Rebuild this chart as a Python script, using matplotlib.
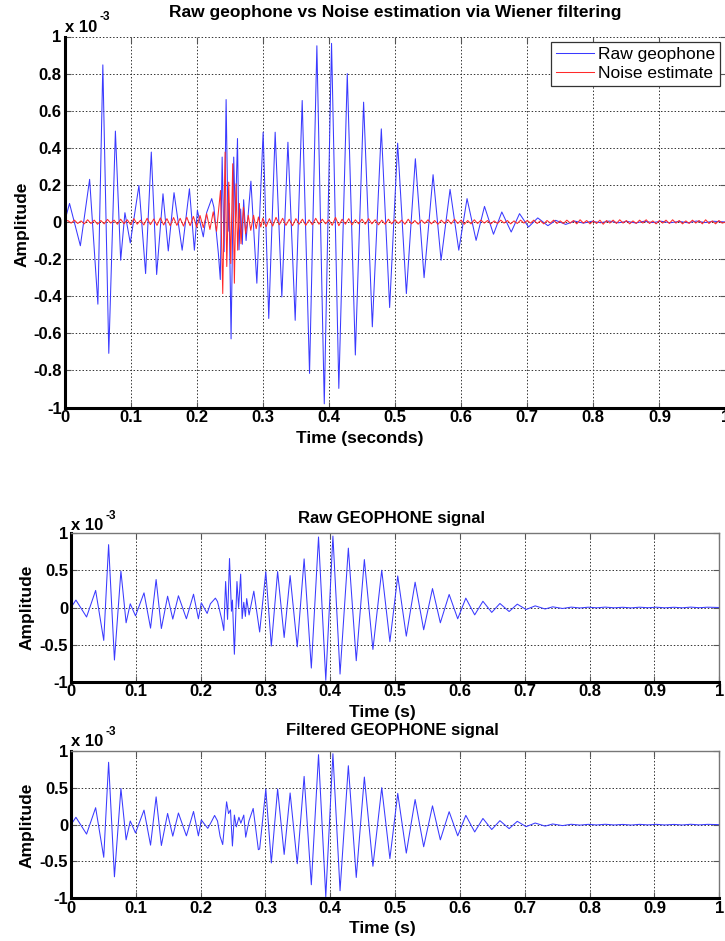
import numpy as np
import matplotlib
matplotlib.use("Agg")
import matplotlib.pyplot as plt

plt.rcParams['font.family'] = ['Liberation Sans', 'DejaVu Sans']

# Raw geophone trace: extrema (time in s, amplitude in units of 1e-3)
raw_t = [0.000, 0.0076, 0.024, 0.038, 0.0505, 0.058, 0.067, 0.077, 0.085, 0.0914,
         0.0995, 0.1126, 0.1227, 0.1313, 0.1394, 0.149, 0.157, 0.1657, 0.178, 0.189,
         0.1965, 0.201, 0.210, 0.215, 0.2227, 0.226, 0.2328, 0.2357, 0.2385, 0.2415,
         0.2445, 0.2475, 0.2490, 0.2520, 0.2560, 0.2585, 0.2617, 0.2640, 0.2665, 0.2690,
         0.2710, 0.2747, 0.2820, 0.2910, 0.3005, 0.309, 0.3187, 0.3288, 0.338, 0.349,
         0.3596, 0.3707, 0.3818, 0.3930, 0.404, 0.415, 0.4278, 0.440, 0.4525, 0.4657,
         0.4793, 0.4919, 0.504, 0.5172, 0.5308, 0.544, 0.5576, 0.5697, 0.5833, 0.5965,
         0.609, 0.6227, 0.6354, 0.649, 0.6616, 0.6758, 0.6884, 0.702, 0.716, 0.7313,
         0.743, 0.7582, 0.7717, 0.785, 0.798, 0.811, 0.824, 0.838, 0.851, 0.864,
         0.877, 0.890, 0.903, 0.916, 0.930, 0.943, 0.956, 0.969, 0.982, 1.000]
raw_v = [0.000, 0.100, -0.128, 0.230, -0.443, 0.847, -0.708, 0.490, -0.206, 0.050,
         -0.113, 0.197, -0.278, 0.377, -0.283, 0.152, -0.156, 0.158, -0.152, 0.179,
         -0.152, 0.063, -0.080, 0.050, 0.126, 0.080, -0.170, -0.310, 0.350, -0.160,
         0.660, -0.050, 0.100, -0.630, 0.350, 0.000, 0.450, -0.150, 0.070, -0.120,
         0.120, -0.100, 0.220, -0.330, 0.484, -0.520, 0.484, -0.404, 0.430, -0.530,
         0.655, -0.816, 0.950, -0.980, 0.963, -0.897, 0.800, -0.717, 0.646, -0.565,
         0.502, -0.461, 0.425, -0.386, 0.341, -0.300, 0.255, -0.206, 0.176, -0.152,
         0.126, -0.099, 0.084, -0.066, 0.054, -0.054, 0.045, -0.027, 0.022, -0.020,
         0.009, -0.013, 0.005, -0.006, 0.004, -0.004, 0.005, -0.004, 0.003, -0.005,
         0.004, -0.003, 0.004, -0.004, 0.003, -0.004, 0.005, -0.003, 0.004, 0.000]

# Filtered trace differs from the raw one only inside the noisy window
filt_window = (0.200, 0.290)
filt_burst_t = [0.2010, 0.2110, 0.2160, 0.2215, 0.2260, 0.2300, 0.2340, 0.2400, 0.2430, 0.2460,
                0.2490, 0.2520, 0.2550, 0.2590, 0.2620, 0.2665, 0.2695, 0.2745, 0.2810, 0.2890]
filt_burst_v = [0.063, -0.050, 0.030, 0.125, 0.050, -0.160, -0.270, 0.310, 0.150, 0.200,
                -0.290, 0.130, -0.030, 0.100, 0.020, 0.130, -0.170, 0.050, 0.220, -0.340]

# Wiener noise estimate: quiet ripple before and after the burst (5 ms step)
noise_step = 0.005
noise_pre_start = 0.000
noise_pre_v = [0.000, 0.008, -0.006, 0.010, -0.008, 0.006, -0.010, 0.012, -0.008, 0.010,
               -0.012, 0.008, -0.010, 0.014, -0.006, 0.010, -0.012, 0.015, -0.010, 0.012,
               -0.014, 0.018, -0.012, 0.010, -0.016, 0.020, -0.014, 0.016, -0.018, 0.022,
               -0.016, 0.018, -0.020, 0.024, -0.018, 0.020, -0.022, 0.026, -0.020, 0.030,
               -0.028, 0.035, -0.030, 0.045, -0.040, 0.055, -0.050]
noise_burst_t = [0.2330, 0.2360, 0.2394, 0.2430, 0.2455, 0.2485, 0.2515, 0.2545, 0.2570, 0.2596,
                 0.2620, 0.2646, 0.2670, 0.2707, 0.2740, 0.2780, 0.2818, 0.2860, 0.2900, 0.2934,
                 0.2970]
noise_burst_v = [0.060, 0.170, -0.386, 0.377, -0.240, 0.215, -0.224, 0.314, -0.330, 0.206,
                 -0.152, 0.100, -0.117, 0.080, -0.063, 0.036, -0.045, 0.036, -0.036, 0.027,
                 -0.027]
noise_post_start = 0.300
noise_post_v = [0.020, -0.025, 0.018, -0.022, 0.025, -0.015, 0.020, -0.018, 0.015, -0.020,
                0.018, -0.012, 0.015, -0.018, 0.012, -0.015, 0.020, -0.012, 0.015, -0.010,
                0.012, -0.018, 0.025, -0.020, 0.015, -0.012, 0.018, -0.015, 0.012, -0.010,
                0.015, -0.012, 0.018, -0.010, 0.012, -0.015, 0.010, -0.012, 0.015, -0.010,
                0.012, -0.008, 0.010, -0.012, 0.015, -0.010, 0.008, -0.012, 0.010, -0.008,
                0.012, -0.010, 0.008, -0.012, 0.010, -0.008, 0.012, -0.010, 0.015, -0.008,
                0.010, -0.012, 0.008, -0.010, 0.012, -0.008, 0.010, -0.006, 0.008, -0.010,
                0.006, -0.008, 0.010, -0.006, 0.008, -0.010, 0.006, -0.008, 0.010, -0.006,
                0.008, -0.006, 0.010, -0.008, 0.006, -0.010, 0.008, -0.006, 0.010, -0.008,
                0.006, -0.008, 0.010, -0.006, 0.008, -0.010, 0.012, -0.006, 0.008, -0.010,
                0.006, -0.008, 0.010, -0.012, 0.008, -0.006, 0.010, -0.008, 0.012, -0.006,
                0.008, -0.010, 0.006, -0.008, 0.010, -0.006, 0.012, -0.008, 0.006, -0.010,
                0.008, -0.006, 0.010, -0.008, 0.012, -0.006, 0.008, -0.010, 0.006, -0.008,
                0.010, -0.006, 0.008, -0.010, 0.012, -0.008, 0.006, -0.010, 0.008, -0.006,
                0.000]

x_ticks = [0, 0.1, 0.2, 0.3, 0.4, 0.5, 0.6, 0.7, 0.8, 0.9, 1]
x_tick_labels = ['0', '0.1', '0.2', '0.3', '0.4', '0.5', '0.6', '0.7', '0.8', '0.9', '1']
top_y_ticks = [-1, -0.8, -0.6, -0.4, -0.2, 0, 0.2, 0.4, 0.6, 0.8, 1]
top_y_tick_labels = ['-1', '-0.8', '-0.6', '-0.4', '-0.2', '0', '0.2', '0.4', '0.6', '0.8', '1']
small_y_ticks = [-1, -0.5, 0, 0.5, 1]
small_y_tick_labels = ['-1', '-0.5', '0', '0.5', '1']

# ---- assemble series ----
raw_t_arr = np.array(raw_t)
raw_v_arr = np.array(raw_v)
keep = (raw_t_arr < filt_window[0]) | (raw_t_arr > filt_window[1])
filt_t = np.concatenate([raw_t_arr[keep], filt_burst_t])
filt_v = np.concatenate([raw_v_arr[keep], filt_burst_v])
order = np.argsort(filt_t)
filt_t, filt_v = filt_t[order], filt_v[order]

noise_pre_t = noise_pre_start + noise_step * np.arange(len(noise_pre_v))
noise_post_t = noise_post_start + noise_step * np.arange(len(noise_post_v))
noise_t = np.concatenate([noise_pre_t, noise_burst_t, noise_post_t])
noise_v = np.concatenate([noise_pre_v, noise_burst_v, noise_post_v])

W, H = 725, 941
fig = plt.figure(figsize=(W / 100, H / 100), dpi=100)


def px_axes(left, top, right, bottom):
    return fig.add_axes([left / W, 1 - bottom / H, (right - left) / W, (bottom - top) / H])


FS_TICK = 12
FS_LABEL = 12.5
FS_TITLE = 12
BLUE = '#3a3aff'
RED = '#ff2a2a'
LW = 0.75


def style(ax, yticks, ylabels, show_top=True):
    ax.set_xlim(0, 1)
    ax.set_ylim(-1, 1)
    ax.set_xticks(x_ticks)
    ax.set_xticklabels(x_tick_labels, fontsize=FS_TICK, fontweight='bold')
    ax.set_yticks(yticks)
    ax.set_yticklabels(ylabels, fontsize=FS_TICK, fontweight='bold')
    ax.grid(True, linestyle=(0, (1.5, 2)), color='#333333', linewidth=0.7)
    ax.tick_params(direction='in', length=4, width=0.8, top=True, right=True,
                   color='#555555', pad=2)
    for s in ('left', 'bottom'):
        ax.spines[s].set_linewidth(2.2)
        ax.spines[s].set_color('black')
    for s in ('top', 'right'):
        ax.spines[s].set_linewidth(1.0)
        ax.spines[s].set_color('#777777')
    ax.spines['top'].set_visible(show_top)


def exponent(x, y):
    fig.text(x / W, 1 - y / H, 'x 10', fontsize=FS_TICK, fontweight='bold',
             va='center', ha='left')
    fig.text((x + 35) / W, 1 - (y - 10) / H, '-3', fontsize=8.5, fontweight='bold',
             va='center', ha='left')


# ---- top: raw vs noise estimate ----
ax1 = px_axes(64.5, 36.5, 725.5, 407.5)
ax1.plot(raw_t, raw_v, color=BLUE, lw=LW, label='Raw geophone')
ax1.plot(noise_t, noise_v, color=RED, lw=LW, label='Noise estimate')
style(ax1, top_y_ticks, top_y_tick_labels, show_top=False)
leg = ax1.legend(loc='upper right', fontsize=12.5, fancybox=False, framealpha=1,
                 edgecolor='#333333', handlelength=2.2, handletextpad=0.2,
                 borderpad=0.3, labelspacing=0.2, borderaxespad=0.3)
leg.get_frame().set_linewidth(0.9)
fig.text(395 / W, 1 - 12 / H, 'Raw geophone vs Noise estimation via Wiener filtering',
         fontsize=FS_TITLE + 0.5, fontweight='bold', ha='center', va='center')
fig.text(360 / W, 1 - 438 / H, 'Time (seconds)', fontsize=FS_LABEL, fontweight='bold',
         ha='center', va='center')
fig.text(22 / W, 1 - 224 / H, 'Amplitude', fontsize=FS_LABEL, fontweight='bold',
         ha='center', va='center', rotation=90)
exponent(65, 27)

# ---- middle: raw signal ----
ax2 = px_axes(71, 533.3, 719.3, 681.7)
ax2.plot(raw_t, raw_v, color=BLUE, lw=LW)
style(ax2, small_y_ticks, small_y_tick_labels)
fig.text(392 / W, 1 - 518 / H, 'Raw GEOPHONE signal', fontsize=FS_TITLE, fontweight='bold',
         ha='center', va='center')
fig.text(382 / W, 1 - 712 / H, 'Time (s)', fontsize=FS_LABEL, fontweight='bold',
         ha='center', va='center')
fig.text(27 / W, 1 - 607 / H, 'Amplitude', fontsize=FS_LABEL, fontweight='bold',
         ha='center', va='center', rotation=90)
exponent(71, 526)

# ---- bottom: filtered signal ----
ax3 = px_axes(71, 751, 719.3, 898.3)
ax3.plot(filt_t, filt_v, color=BLUE, lw=LW)
style(ax3, small_y_ticks, small_y_tick_labels)
fig.text(392 / W, 1 - 731 / H, 'Filtered GEOPHONE signal', fontsize=FS_TITLE,
         fontweight='bold', ha='center', va='center')
fig.text(382 / W, 1 - 929 / H, 'Time (s)', fontsize=FS_LABEL, fontweight='bold',
         ha='center', va='center')
fig.text(27 / W, 1 - 825 / H, 'Amplitude', fontsize=FS_LABEL, fontweight='bold',
         ha='center', va='center', rotation=90)
exponent(71, 742)

fig.savefig('out.png', dpi=100)
